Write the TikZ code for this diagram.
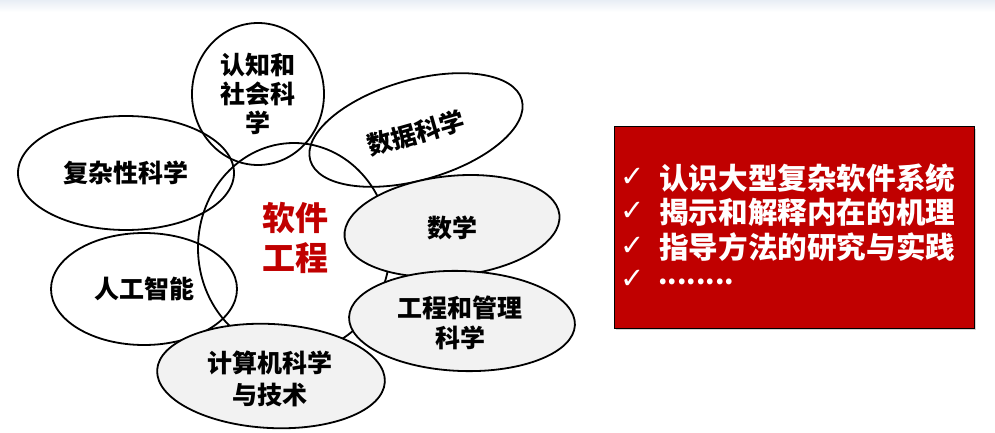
\documentclass[tikz,border=0pt]{standalone}
\usepackage{fontspec}
\setmainfont{Noto Sans CJK SC}
\newfontfamily\symfont{DejaVu Sans}
\usetikzlibrary{shapes.geometric,shadows}
\definecolor{boxred}{RGB}{192,0,0}
\definecolor{lightfill}{RGB}{242,242,242}
\definecolor{topband}{RGB}{232,238,245}
\begin{document}
\begin{tikzpicture}[x=1pt,y=-1pt,
  bubble/.style={draw=black, line width=1.8pt, ellipse, inner sep=0pt},
  graybubble/.style={bubble, fill=lightfill},
  lbl/.style={font=\bfseries\fontsize{25}{30}\selectfont, align=center, inner sep=0pt},
  chk/.style={font=\symfont\fontsize{29}{30}\selectfont, text=white, inner sep=0pt},
  boxtxt/.style={font=\bfseries\fontsize{29.6}{34}\selectfont, text=white, inner sep=0pt, anchor=west},
]
\useasboundingbox (0,0) rectangle (995,433);
\shade[top color=topband, bottom color=white] (0,0) rectangle (995,12);

% white (unfilled) bubbles
\node[bubble, minimum width=216pt, minimum height=114pt] (cx) at (126,173) {};
\node[bubble, minimum width=186pt, minimum height=112pt] (ai) at (144,289) {};
\node[bubble, minimum width=132pt, minimum height=142pt] (cog) at (258,94) {};
\node[bubble, minimum width=220pt, minimum height=100pt, rotate=16] (ds) at (416,130) {};
\node[bubble, minimum width=192pt, minimum height=210pt] (se) at (294,248) {};

% gray bubbles
\node[graybubble, minimum width=216pt, minimum height=100pt, rotate=6] (math) at (452,226) {};
\node[graybubble, minimum width=226pt, minimum height=100pt, rotate=-2] (em) at (462,321) {};
\node[graybubble, minimum width=228pt, minimum height=104pt, rotate=-3] (cs) at (271,376) {};

% labels
\node[lbl] (cxt) at (cx) {复杂性科学};
\node[lbl] (ait) at (ai) {人工智能};
\node[lbl, font=\bfseries\fontsize{25}{29}\selectfont] (cogt) at (258,94) {认知和\\社会科\\学};
\node[lbl, rotate=16] (dst) at (416,133) {数据科学};
\node[lbl, font=\bfseries\fontsize{33}{40}\selectfont, text=boxred] (set) at (295,238) {软件\\工程};
\node[lbl] (matht) at (452,228) {数学};
\node[lbl] (emt) at (460,323) {工程和管理\\科学};
\node[lbl, font=\bfseries\fontsize{25}{32}\selectfont] (cst) at (270,379) {计算机科学\\与技术};

% red box
\node[draw=black, line width=1pt, fill=boxred, minimum width=360pt, minimum height=201pt,
      inner sep=0pt, drop shadow={shadow xshift=2pt, shadow yshift=-2pt, opacity=0.35}] (box) at (794,227.5) {};
\node[chk] (c1) at (633,177) {✓};
\node[chk] (c2) at (633,211) {✓};
\node[chk] (c3) at (633,246) {✓};
\node[chk] (c4) at (633,279) {✓};
\node[boxtxt] (t1) at (659,178) {认识大型复杂软件系统};
\node[boxtxt] (t2) at (659,212) {揭示和解释内在的机理};
\node[boxtxt] (t3) at (659,247) {指导方法的研究与实践};
\node[boxtxt, font=\bfseries\fontsize{27}{28}\selectfont] (t4) at (658,282) {........};
\end{tikzpicture}
\end{document}
